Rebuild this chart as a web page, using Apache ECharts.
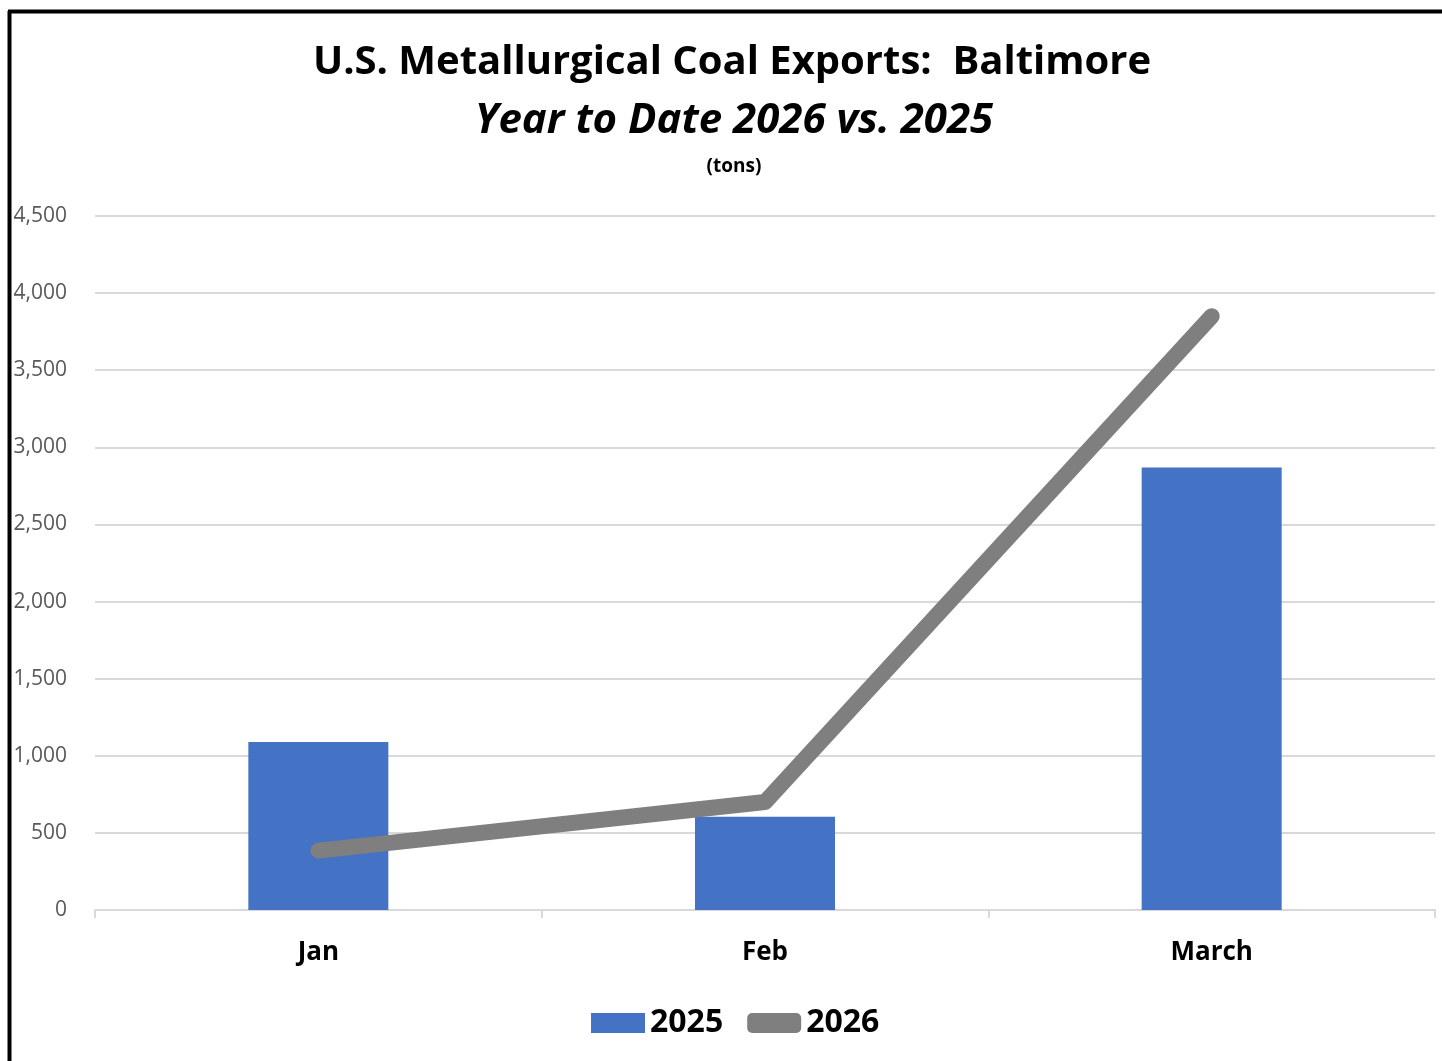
<!DOCTYPE html>
<html>
<head>
<meta charset="utf-8">
<script src="https://cdn.jsdelivr.net/npm/echarts@6/dist/echarts.min.js"></script>
<style>
  html, body { margin: 0; padding: 0; background: #fff; }
  #main { width: 1442px; height: 1061px; }
</style>
</head>
<body>
<div id="main"></div>
<script>
// data
var months = ["Jan", "Feb", "March"];
var exports2025 = [1090, 605, 2870];
var exports2026 = [385, 700, 3850];
var yTicks = [0, 500, 1000, 1500, 2000, 2500, 3000, 3500, 4000, 4500];

var font = "'Open Sans', 'Noto Sans', sans-serif";
var myChart = echarts.init(document.getElementById("main"));

var option = {
  animation: false,
  backgroundColor: "#fff",
  title: [
    {
      text: "U.S. Metallurgical Coal Exports:  Baltimore",
      left: 727, top: 38, textAlign: "center",
      textStyle: { fontFamily: font, fontSize: 40, fontWeight: "bold", color: "#000" }
    },
    {
      text: "Year to Date 2026 vs. 2025",
      left: 729, top: 95, textAlign: "center",
      textStyle: { fontFamily: font, fontSize: 42, fontWeight: "bold", fontStyle: "italic", color: "#000" }
    },
    {
      text: "(tons)",
      left: 729, top: 152, textAlign: "center",
      textStyle: { fontFamily: font, fontSize: 19, fontWeight: "bold", color: "#000" }
    }
  ],
  legend: {
    bottom: 17,
    left: 586,
    itemWidth: 54,
    itemHeight: 20,
    itemGap: 24,
    textStyle: { fontFamily: font, fontSize: 32, fontWeight: "bold", color: "#000" },
    data: [
      { name: "2025", icon: "rect" },
      { name: "2026", icon: "roundRect", itemStyle: { color: "#7f7f7f" } }
    ]
  },
  grid: { left: 95, right: 7, top: 216, bottom: 151 },
  xAxis: {
    type: "category",
    data: months,
    axisLine: { lineStyle: { color: "#d9d9d9", width: 2 } },
    axisTick: { show: true, length: 8, lineStyle: { color: "#d9d9d9", width: 2 } },
    axisLabel: { fontFamily: font, fontSize: 26, fontWeight: "bold", color: "#000", margin: 30 }
  },
  yAxis: {
    type: "value",
    min: yTicks[0],
    max: yTicks[yTicks.length - 1],
    interval: 500,
    axisLine: { show: false },
    axisTick: { show: false },
    splitLine: { lineStyle: { color: "#d9d9d9", width: 2 } },
    axisLabel: {
      fontFamily: font, fontSize: 21, color: "#595959", margin: 28,
      formatter: function (v) { return v.toLocaleString("en-US"); }
    }
  },
  series: [
    {
      name: "2025",
      type: "bar",
      data: exports2025,
      barWidth: 140,
      itemStyle: { color: "#4472c4" }
    },
    {
      name: "2026",
      type: "line",
      data: exports2026,
      showSymbol: false,
      symbol: "none",
      lineStyle: { color: "#7f7f7f", width: 16, cap: "round", join: "round" },
      itemStyle: { color: "#7f7f7f" }
    }
  ],
  graphic: [
    { type: "line", shape: { x1: 9.5, y1: 11, x2: 9.5, y2: 1061 }, style: { stroke: "#000", lineWidth: 4 } },
    { type: "line", shape: { x1: 8, y1: 11.5, x2: 1442, y2: 11.5 }, style: { stroke: "#000", lineWidth: 4 } }
  ]
};

myChart.setOption(option);
</script>
</body>
</html>
